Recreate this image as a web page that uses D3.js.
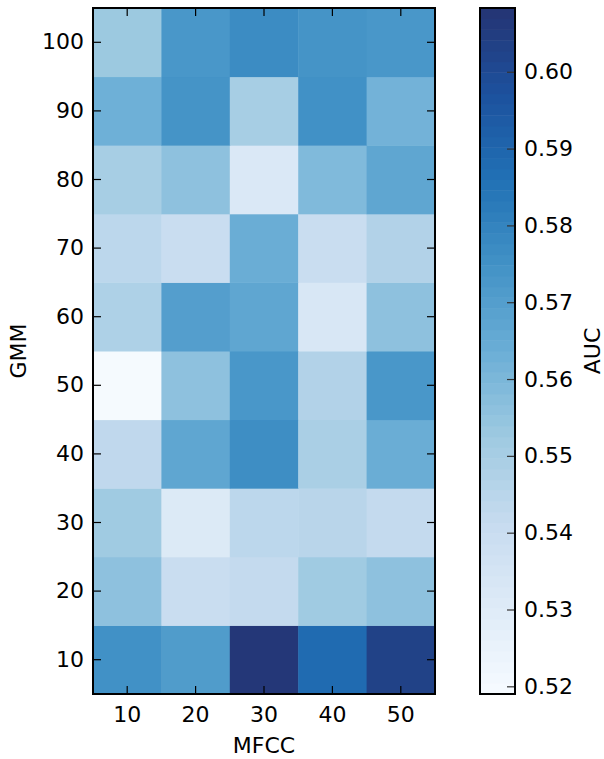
<!DOCTYPE html>
<html>
<head>
<meta charset="UTF-8">
<style>
  body { margin: 0; background: #fff; }
  svg { display: block; font-family: "DejaVu Sans", sans-serif; }
</style>
</head>
<body>
<div id="chart"></div>
<script src="https://d3js.org/d3.v7.min.js"></script>
<script>
// columns (MFCC) and rows (GMM)
const mfcc = [10, 20, 30, 40, 50];
const gmm = [10, 20, 30, 40, 50, 60, 70, 80, 90, 100];

// AUC values, one array per GMM row, in MFCC order
const auc10  = [0.575, 0.571, 0.607, 0.588, 0.603];
const auc20  = [0.556, 0.540, 0.542, 0.552, 0.556];
const auc30  = [0.552, 0.531, 0.544, 0.545, 0.542];
const auc40  = [0.543, 0.567, 0.576, 0.549, 0.564];
const auc50  = [0.520, 0.556, 0.573, 0.547, 0.573];
const auc60  = [0.548, 0.570, 0.567, 0.533, 0.556];
const auc70  = [0.544, 0.540, 0.564, 0.540, 0.547];
const auc80  = [0.550, 0.556, 0.532, 0.559, 0.567];
const auc90  = [0.563, 0.574, 0.550, 0.575, 0.562];
const auc100 = [0.553, 0.573, 0.577, 0.574, 0.573];
const aucRows = [auc10, auc20, auc30, auc40, auc50, auc60, auc70, auc80, auc90, auc100];

const cbTicks = [0.52, 0.53, 0.54, 0.55, 0.56, 0.57, 0.58, 0.59, 0.60];
const vmin = 0.519, vmax = 0.6083;

const width = 604, height = 759;
const plot = { left: 93, right: 435, top: 8, bottom: 694 };
const cb = { left: 480, right: 515 };

const svg = d3.select("#chart").append("svg")
    .attr("width", width)
    .attr("height", height);

// Blues-like colour map
const blues = ["#f7fbff", "#deebf7", "#c6dbef", "#9ecae1", "#6baed6",
               "#4292c6", "#2171b5", "#1c519e", "#253473"];
const color = d3.scaleLinear()
    .domain(blues.map((c, i) => vmin + (vmax - vmin) * i / (blues.length - 1)))
    .range(blues)
    .interpolate(d3.interpolateRgb)
    .clamp(true);

const x = d3.scaleBand().domain(mfcc).range([plot.left, plot.right]);
const y = d3.scaleBand().domain(gmm).range([plot.bottom, plot.top]);

const cells = [];
gmm.forEach((g, i) => mfcc.forEach((m, j) => cells.push({ g, m, v: aucRows[i][j] })));

svg.append("g").selectAll("rect")
    .data(cells)
    .enter().append("rect")
    .attr("x", d => x(d.m))
    .attr("y", d => y(d.g))
    .attr("width", x.bandwidth() + 0.5)
    .attr("height", y.bandwidth() + 0.5)
    .attr("fill", d => color(d.v));

// axes with inward ticks (classic style)
const tickLen = 8;
const fontSize = 22;

function styleAxis(g) {
    g.select(".domain").remove();
    g.selectAll(".tick line").attr("stroke", "#000").attr("stroke-width", 1.2);
    g.selectAll(".tick text").attr("font-size", fontSize).attr("fill", "#000")
        .attr("font-family", "DejaVu Sans, sans-serif");
}

svg.append("g")
    .attr("transform", `translate(0,${plot.bottom})`)
    .call(d3.axisBottom(x).tickSizeInner(-tickLen).tickSizeOuter(0).tickPadding(12))
    .call(styleAxis);
svg.append("g")
    .attr("transform", `translate(0,${plot.top})`)
    .call(d3.axisTop(x).tickSizeInner(-tickLen).tickSizeOuter(0).tickFormat(""))
    .call(styleAxis);
svg.append("g")
    .attr("transform", `translate(${plot.left},0)`)
    .call(d3.axisLeft(y).tickSizeInner(-tickLen).tickSizeOuter(0).tickPadding(9))
    .call(styleAxis);
svg.append("g")
    .attr("transform", `translate(${plot.right},0)`)
    .call(d3.axisRight(y).tickSizeInner(-tickLen).tickSizeOuter(0).tickFormat(""))
    .call(styleAxis);

svg.append("rect")
    .attr("x", plot.left).attr("y", plot.top)
    .attr("width", plot.right - plot.left).attr("height", plot.bottom - plot.top)
    .attr("fill", "none").attr("stroke", "#000").attr("stroke-width", 2);

// axis labels
svg.append("text")
    .attr("x", (plot.left + plot.right) / 2).attr("y", 753)
    .attr("text-anchor", "middle").attr("font-size", fontSize)
    .text("MFCC");
svg.append("text")
    .attr("transform", `translate(26,${(plot.top + plot.bottom) / 2}) rotate(-90)`)
    .attr("text-anchor", "middle").attr("font-size", fontSize)
    .text("GMM");

// colour bar
const cy = d3.scaleLinear().domain([vmin, vmax]).range([plot.bottom, plot.top]);
const nBands = 64;
const bands = d3.range(nBands).map(i => vmin + (vmax - vmin) * i / nBands);
const bandStep = (vmax - vmin) / nBands;

svg.append("g").selectAll("rect")
    .data(bands)
    .enter().append("rect")
    .attr("x", cb.left)
    .attr("y", d => cy(d + bandStep))
    .attr("width", cb.right - cb.left)
    .attr("height", d => cy(d) - cy(d + bandStep) + 0.5)
    .attr("fill", d => color(d + bandStep / 2));

const cbAxis = svg.append("g")
    .attr("transform", `translate(${cb.right},0)`)
    .call(d3.axisRight(cy).tickValues(cbTicks).tickFormat(d3.format(".2f"))
        .tickSizeInner(-tickLen).tickSizeOuter(0).tickPadding(9))
    .call(styleAxis);
cbAxis.selectAll(".tick line").attr("stroke", "#333");

svg.append("rect")
    .attr("x", cb.left).attr("y", plot.top)
    .attr("width", cb.right - cb.left).attr("height", plot.bottom - plot.top)
    .attr("fill", "none").attr("stroke", "#000").attr("stroke-width", 2);

svg.append("text")
    .attr("transform", `translate(600,${(plot.top + plot.bottom) / 2}) rotate(-90)`)
    .attr("text-anchor", "middle").attr("font-size", fontSize)
    .text("AUC");
</script>
</body>
</html>
